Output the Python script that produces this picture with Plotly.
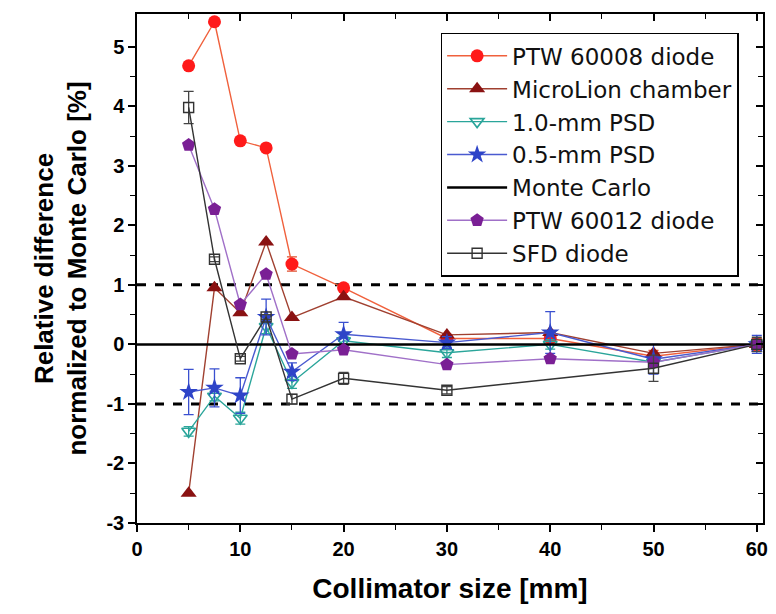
import plotly.graph_objects as go

x_all = [5, 7.5, 10, 12.5, 15, 20, 30, 40, 50, 60]
x_sfd = [5, 7.5, 10, 12.5, 15, 20, 30, 50, 60]

ptw60008 = [4.68, 5.42, 3.42, 3.30, 1.35, 0.95, 0.10, 0.10, -0.20, 0.0]
ptw60008_err = [0, 0, 0, 0, 0.12, 0.04, 0.04, 0.04, 0.10, 0.10]
microlion = [-2.50, 0.95, 0.53, 1.72, 0.45, 0.80, 0.16, 0.20, -0.15, 0.0]
psd10 = [-1.46, -0.87, -1.24, 0.30, -0.64, 0.06, -0.14, 0.0, -0.30, 0.0]
psd10_err = [0.08, 0.08, 0.10, 0.12, 0.10, 0.08, 0.08, 0.08, 0.08, 0.08]
psd05 = [-0.80, -0.73, -0.86, 0.46, -0.46, 0.17, 0.03, 0.20, -0.25, 0.0]
psd05_err = [0.38, 0.32, 0.30, 0.30, 0.15, 0.20, 0.10, 0.35, 0.25, 0.15]
ptw60012 = [3.35, 2.27, 0.67, 1.18, -0.16, -0.09, -0.34, -0.24, -0.30, 0.0]
sfd = [3.98, 1.43, -0.24, 0.46, -0.92, -0.57, -0.77, -0.40, 0.0]
sfd_err = [0.27, 0.04, 0.04, 0.04, 0.08, 0.10, 0.06, 0.22, 0.12]
mc_x = [0, 60.6]
mc_y = [0, 0]

x_range = [0, 60.6]
y_range = [-3, 5.55]

fig = go.Figure()

def add(name, x, y, line_color, marker, err=None, err_color=None):
    kw = {}
    if err is not None:
        kw["error_y"] = dict(type="data", array=err, visible=True,
                             color=err_color or line_color, thickness=1.3, width=5)
    fig.add_trace(go.Scatter(x=x, y=y, name=name, mode="lines+markers",
                             line=dict(color=line_color, width=1.4),
                             marker=marker, **kw))

add("PTW 60008 diode", x_all, ptw60008, "#f0603c",
    dict(symbol="circle", size=13, color="#ff1a1a", line=dict(width=0)),
    ptw60008_err, "#e05030")
add("MicroLion chamber", x_all, microlion, "#a04030",
    dict(symbol="triangle-up", size=14, color="#8a1212", line=dict(width=0)))
add("1.0-mm PSD", x_all, psd10, "#2aa59a",
    dict(symbol="triangle-down-open", size=12, color="#2aa59a", line=dict(width=1.6)),
    psd10_err)
add("0.5-mm PSD", x_all, psd05, "#4a5ad0",
    dict(symbol="star", size=14, color="#2e44c8", line=dict(width=0)),
    psd05_err, "#3a50d0")
fig.add_trace(go.Scatter(x=mc_x, y=mc_y, name="Monte Carlo", mode="lines",
                         line=dict(color="black", width=2.5)))
add("PTW 60012 diode", x_all, ptw60012, "#a070c8",
    dict(symbol="pentagon", size=14, color="#7a1f95", line=dict(width=0)))
add("SFD diode", x_sfd, sfd, "#333333",
    dict(symbol="square-open", size=10, color="#333333", line=dict(width=1.4)),
    sfd_err, "#444444")

# invisible trace for mirrored axes
fig.add_trace(go.Scatter(x=x_range, y=y_range, xaxis="x2", yaxis="y2",
                         mode="markers", marker=dict(opacity=0),
                         showlegend=False, hoverinfo="skip"))

for yv in (1, -1):
    fig.add_shape(type="line", xref="paper", x0=0, x1=1, yref="y", y0=yv, y1=yv,
                  line=dict(color="black", width=3, dash="dash"), layer="below")

tickfont = dict(family="Liberation Sans, Arial", size=20, color="black")
fig.update_layout(
    width=776, height=614,
    margin=dict(l=137, r=8, t=14, b=91),
    paper_bgcolor="white", plot_bgcolor="white",
    font=dict(family="Liberation Sans, Arial", color="black"),
    xaxis=dict(range=x_range, tickvals=[0, 10, 20, 30, 40, 50, 60],
               ticktext=["<b>0</b>", "<b>10</b>", "<b>20</b>", "<b>30</b>", "<b>40</b>", "<b>50</b>", "<b>60</b>"],
               ticks="outside", ticklen=7, tickwidth=1.5, tickcolor="black",
               minor=dict(tickvals=[5, 15, 25, 35, 45, 55], ticks="outside", ticklen=5, tickwidth=1.2, tickcolor="black"),
               showline=True, linecolor="black", linewidth=1.5, showgrid=False, zeroline=False,
               tickfont=tickfont,
               title=dict(text="<b>Collimator size [mm]</b>", font=dict(size=28), standoff=20)),
    yaxis=dict(range=y_range, tickvals=[-3, -2, -1, 0, 1, 2, 3, 4, 5],
               ticktext=["<b>-3</b>", "<b>-2</b>", "<b>-1</b>", "<b>0</b>", "<b>1</b>", "<b>2</b>", "<b>3</b>", "<b>4</b>", "<b>5</b>"],
               ticks="outside", ticklen=7, tickwidth=1.5, tickcolor="black",
               minor=dict(tickvals=[-2.5, -1.5, -0.5, 0.5, 1.5, 2.5, 3.5, 4.5], ticks="outside", ticklen=5, tickwidth=1.2, tickcolor="black"),
               showline=True, linecolor="black", linewidth=1.5, showgrid=False, zeroline=False,
               tickfont=tickfont,
               title=dict(text="<b>Relative difference<br>normalized to Monte Carlo [%]</b>", font=dict(size=26), standoff=12)),
    xaxis2=dict(range=x_range, overlaying="x", side="top", anchor="y",
                tickvals=[0, 10, 20, 30, 40, 50, 60], showticklabels=False,
                ticks="inside", ticklen=7, tickwidth=1.5, tickcolor="black",
                minor=dict(tickvals=[5, 15, 25, 35, 45, 55], ticks="inside", ticklen=5, tickwidth=1.2, tickcolor="black"),
                showline=True, linecolor="black", linewidth=1.5, showgrid=False, zeroline=False),
    yaxis2=dict(range=y_range, overlaying="y", side="right", anchor="x",
                tickvals=[-3, -2, -1, 0, 1, 2, 3, 4, 5], showticklabels=False,
                ticks="inside", ticklen=7, tickwidth=1.5, tickcolor="black",
                minor=dict(tickvals=[-2.5, -1.5, -0.5, 0.5, 1.5, 2.5, 3.5, 4.5], ticks="inside", ticklen=5, tickwidth=1.2, tickcolor="black"),
                showline=True, linecolor="black", linewidth=1.5, showgrid=False, zeroline=False),
    legend=dict(x=0.485, y=0.963, xanchor="left", yanchor="top",
                bgcolor="white", bordercolor="black", borderwidth=1.5,
                font=dict(family="DejaVu Sans", size=23, color="#111111"),
                tracegroupgap=0, itemwidth=60),
    showlegend=True,
)

fig.write_html("out.html")
